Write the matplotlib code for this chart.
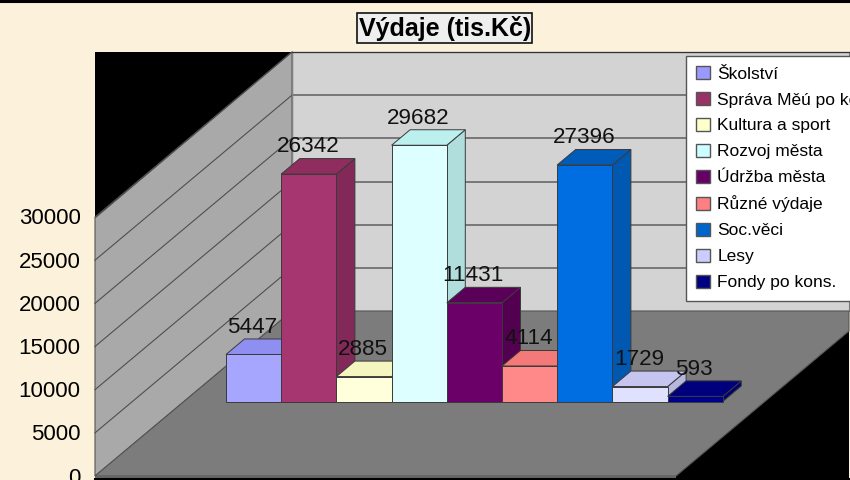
import matplotlib
matplotlib.use("Agg")
import matplotlib.pyplot as plt
from matplotlib.patches import Polygon, Patch, Rectangle

plt.rcParams['font.family'] = ['Liberation Sans', 'DejaVu Sans']

categories = ["Školství", "Správa Měú po kons.", "Kultura a sport", "Rozvoj města",
              "Údržba města", "Různé výdaje", "Soc.věci", "Lesy", "Fondy po kons."]
values = [5447, 26342, 2885, 29682, 11431, 4114, 27396, 1729, 593]
tick_values = [0, 5000, 10000, 15000, 20000, 25000, 30000]

legend_colors = ["#9999FF", "#993366", "#FFFFCC", "#CCFFFF", "#660066",
                 "#FF8080", "#0066CC", "#CCCCFF", "#000080"]
front_colors = ["#A6A6FF", "#A6366F", "#FFFFDC", "#DDFFFF", "#6A0068",
                "#FF8888", "#006DE0", "#E0E0FF", "#000090"]
top_colors = ["#8F8FF2", "#8F2D5F", "#F5F5C0", "#BBF0EE", "#5A0058",
              "#F47A7A", "#005CB8", "#C5C5F0", "#00007C"]
side_colors = ["#8080D8", "#82295A", "#DCDCB0", "#B0DEDC", "#52004F",
               "#D86C6C", "#0058B0", "#B8B8DC", "#000070"]

W, H = 850, 480
PX_PER_UNIT = 259.0 / 30000      # vertical pixels per value unit
BAR_W = 55.2                     # pixel width of a bar
BAR_X0 = 226.0                   # pixel x of first bar
BAR_BASE = 401.5                 # pixel y of bars' base
DX, DY = 18.5, 15.5              # depth offset of a bar in pixels
BG = "#FCF1DA"

fig = plt.figure(figsize=(8.5, 4.8), dpi=100, facecolor=BG)

# ---------- background walls and floor, in pixel coordinates
bg = fig.add_axes([0, 0, 1, 1], zorder=0)
bg.set_xlim(0, W)
bg.set_ylim(H, 0)
bg.axis("off")

L, R, T, BOT = 95, 849, 52, 478
BACK_X, BACK_FLOOR = 292, 311
FRONT_Y = 476
bg.add_patch(Rectangle((L, T), R - L, BOT - T, fc="black", ec="none"))
bg.add_patch(Rectangle((BACK_X, T), R - BACK_X, BACK_FLOOR - T, fc="#D3D3D3", ec="#777777", lw=0.8))
bg.add_patch(Polygon([(L, FRONT_Y - 258), (BACK_X, T), (BACK_X, BACK_FLOOR), (L, FRONT_Y)],
                     fc="#A9A9A9", ec="#555555", lw=0.8))
bg.add_patch(Polygon([(L, FRONT_Y), (BACK_X, BACK_FLOOR), (R, BACK_FLOOR), (R, 331), (676, FRONT_Y)],
                     fc="#7C7C7C", ec="#555555", lw=0.8))
bg.add_patch(Rectangle((L, FRONT_Y), 581, 2, fc="#666666", ec="none"))
for v in tick_values[1:]:
    y = BACK_FLOOR - v * PX_PER_UNIT
    if v < 30000:
        bg.plot([BACK_X, R], [y, y], color="#707070", lw=1.3, solid_capstyle="butt")
    bg.plot([L, BACK_X], [y + 165, y], color="#4F4F4F", lw=0.8)
bg.plot([BACK_X, BACK_X], [T, BACK_FLOOR], color="#808080", lw=1.0)
bg.plot([0, W], [1.2, 1.2], color="black", lw=2.2)
bg.plot([BACK_X, R], [T, T], color="#333333", lw=0.9)
bg.plot([L, W], [479, 479], color="black", lw=2.2)
# title box behind the title text
bg.add_patch(Rectangle((357.5, 12.5), 174.5, 30.5, fc="#EFEFEF", ec="#111111", lw=1.2))

# ---------- value axis labels
tk = fig.add_axes([L / W, (H - FRONT_Y + 0.5) / H, 0.02, 259 / H], zorder=1)
tk.set_ylim(0, 30000)
tk.patch.set_alpha(0)
for s in tk.spines.values():
    s.set_visible(False)
tk.set_xticks([])
tk.set_yticks(tick_values)
tk.tick_params(axis="y", length=0, pad=10.4, labelsize=16)

# ---------- bars: x data = bar index, y data = value
ax = fig.add_axes([0, 0, 1, 1], zorder=2)
ax.patch.set_alpha(0)
ax.set_xlim((0 - BAR_X0) / BAR_W, (W - BAR_X0) / BAR_W)
ax.set_ylim((BAR_BASE - H) / PX_PER_UNIT, BAR_BASE / PX_PER_UNIT)
ax.axis("off")
dx, dy = DX / BAR_W, DY / PX_PER_UNIT
edge = "#3A3A3A"
for i, v in enumerate(values):
    z = 3 + i
    ax.add_patch(Polygon([(i + 1, 0), (i + 1 + dx, dy), (i + 1 + dx, v + dy), (i + 1, v)],
                         fc=side_colors[i], ec=edge, lw=0.7, zorder=z))
    ax.add_patch(Polygon([(i, v), (i + dx, v + dy), (i + 1 + dx, v + dy), (i + 1, v)],
                         fc=top_colors[i], ec=edge, lw=0.7, zorder=z))
    ax.bar(i, v, width=1, align="edge", color=front_colors[i], edgecolor=edge, linewidth=0.7, zorder=z)
for i, v in enumerate(values):
    ax.annotate(str(v), xy=(i + 0.5, v), xytext=(-0.7, 19.6), textcoords="offset points",
                ha="center", va="center", fontsize=16.2, color="#111111", zorder=30)

ax.set_title("Výdaje (tis.Kč)", x=444.7 / W, y=1 - 28.5 / H, pad=0, va="center", ha="center",
             fontsize=18, fontweight="bold", color="black")

handles = [Patch(fc=c, ec="#555555", lw=1.0, label=n) for c, n in zip(legend_colors, categories)]
leg = ax.legend(handles=handles, loc="upper left", bbox_to_anchor=(686 / W, 1 - 55.5 / H),
                bbox_transform=fig.transFigure, fontsize=12.5, frameon=True, fancybox=False,
                framealpha=1, facecolor="white", edgecolor="#555555", borderaxespad=0,
                handlelength=0.8, handleheight=0.8, handletextpad=0.4, labelspacing=0.59,
                borderpad=0.6)
leg.set_zorder(40)
leg.get_frame().set_linewidth(1.0)

fig.savefig("out.png", dpi=100, facecolor=BG)
